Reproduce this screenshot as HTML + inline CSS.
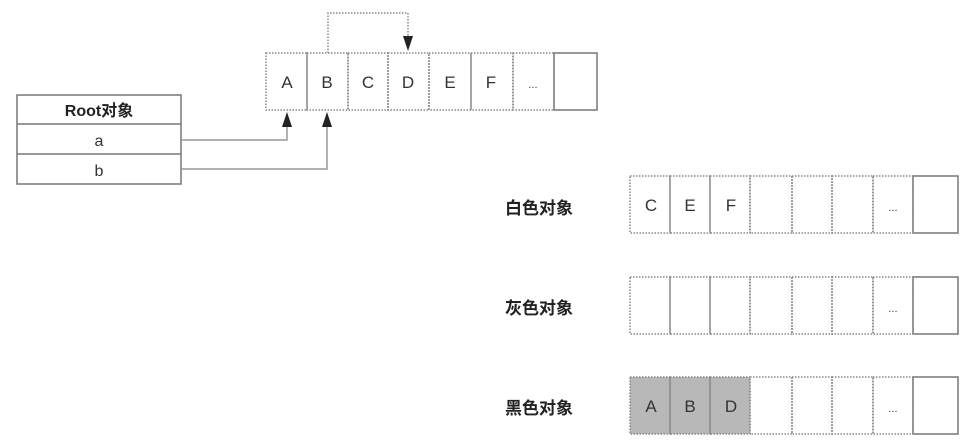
<!DOCTYPE html>
<html><head><meta charset="utf-8"><style>
html,body{margin:0;padding:0;background:#fff;}
svg{display:block}
text{font-family:"Liberation Sans","Noto Sans CJK SC",sans-serif;fill:#333}
.l{font-size:17px;font-weight:bold;fill:#222;font-family:"Liberation Sans","Noto Sans CJK SC",sans-serif}
.c{font-size:17px;text-anchor:middle}
.d{fill:none;stroke:#888;stroke-width:1.5;stroke-dasharray:1.5 1.5}
.s{fill:none;stroke:#777;stroke-width:1.5}
</style></head><body>
<svg width="973" height="446" viewBox="0 0 973 446" xmlns="http://www.w3.org/2000/svg">
<!-- top array -->
<rect x="554" y="53" width="43" height="57" class="s"/>
<g class="d">
<rect x="266" y="53" width="41" height="57"/>
<rect x="307" y="53" width="41" height="57"/>
<rect x="348" y="53" width="40" height="57"/>
<rect x="388" y="53" width="41" height="57"/>
<rect x="429" y="53" width="42" height="57"/>
<rect x="471" y="53" width="42" height="57"/>
<rect x="513" y="53" width="41" height="57"/>
</g>
<g class="c">
<text x="287" y="88" class="c">A</text><text x="327" y="88" class="c">B</text>
<text x="368" y="88" class="c">C</text><text x="408" y="88" class="c">D</text>
<text x="450" y="88" class="c">E</text><text x="491" y="88" class="c">F</text>
<text x="533" y="88" class="c" style="font-size:11px">...</text>
</g>
<!-- loop -->
<polyline points="328,53 328,13 408,13 408,36" class="d"/>
<polygon points="403,36 413,36 408,51" fill="#222"/>
<!-- root table -->
<rect x="17" y="95" width="164" height="89" class="s"/>
<line x1="17" y1="124" x2="181" y2="124" class="s"/>
<line x1="17" y1="154" x2="181" y2="154" class="s"/>
<text x="99" y="116" class="l" style="text-anchor:middle;font-size:16px">Root对象</text>
<text x="99" y="146" class="c" style="font-size:16px">a</text>
<text x="99" y="176" class="c" style="font-size:16px">b</text>
<polyline points="181,140 287,140 287,126" class="s" style="stroke:#999"/>
<polygon points="282,127 292,127 287,112" fill="#222"/>
<polyline points="181,169 327,169 327,126" class="s" style="stroke:#999"/>
<polygon points="322,127 332,127 327,112" fill="#222"/>
<!-- arrays -->
<g id="arr">
</g>
<text x="505" y="214" class="l">白色对象</text>
<text x="505" y="314" class="l">灰色对象</text>
<text x="505" y="414" class="l">黑色对象</text>
<!-- white -->
<rect x="913" y="176" width="45" height="57" class="s"/>
<g class="d">
<rect x="630" y="176" width="40" height="57"/><rect x="670" y="176" width="40" height="57"/>
<rect x="710" y="176" width="40" height="57"/><rect x="750" y="176" width="42" height="57"/>
<rect x="792" y="176" width="40" height="57"/><rect x="832" y="176" width="41" height="57"/>
<rect x="873" y="176" width="40" height="57"/>
</g>
<text x="651" y="211" class="c">C</text><text x="690" y="211" class="c">E</text><text x="731" y="211" class="c">F</text>
<text x="893" y="211" class="c" style="font-size:11px">...</text>
<!-- gray -->
<rect x="913" y="277" width="45" height="57" class="s"/>
<g class="d">
<rect x="630" y="277" width="40" height="57"/><rect x="670" y="277" width="40" height="57"/>
<rect x="710" y="277" width="40" height="57"/><rect x="750" y="277" width="42" height="57"/>
<rect x="792" y="277" width="40" height="57"/><rect x="832" y="277" width="41" height="57"/>
<rect x="873" y="277" width="40" height="57"/>
</g>
<text x="893" y="312" class="c" style="font-size:11px">...</text>
<!-- black -->
<rect x="630" y="377" width="120" height="57" fill="#b8b8b8"/>
<rect x="913" y="377" width="45" height="57" class="s"/>
<g class="d">
<rect x="630" y="377" width="40" height="57"/><rect x="670" y="377" width="40" height="57"/>
<rect x="710" y="377" width="40" height="57"/><rect x="750" y="377" width="42" height="57"/>
<rect x="792" y="377" width="40" height="57"/><rect x="832" y="377" width="41" height="57"/>
<rect x="873" y="377" width="40" height="57"/>
</g>
<text x="651" y="412" class="c">A</text><text x="690" y="412" class="c">B</text><text x="731" y="412" class="c">D</text>
<text x="893" y="412" class="c" style="font-size:11px">...</text>
</svg>
</body></html>
